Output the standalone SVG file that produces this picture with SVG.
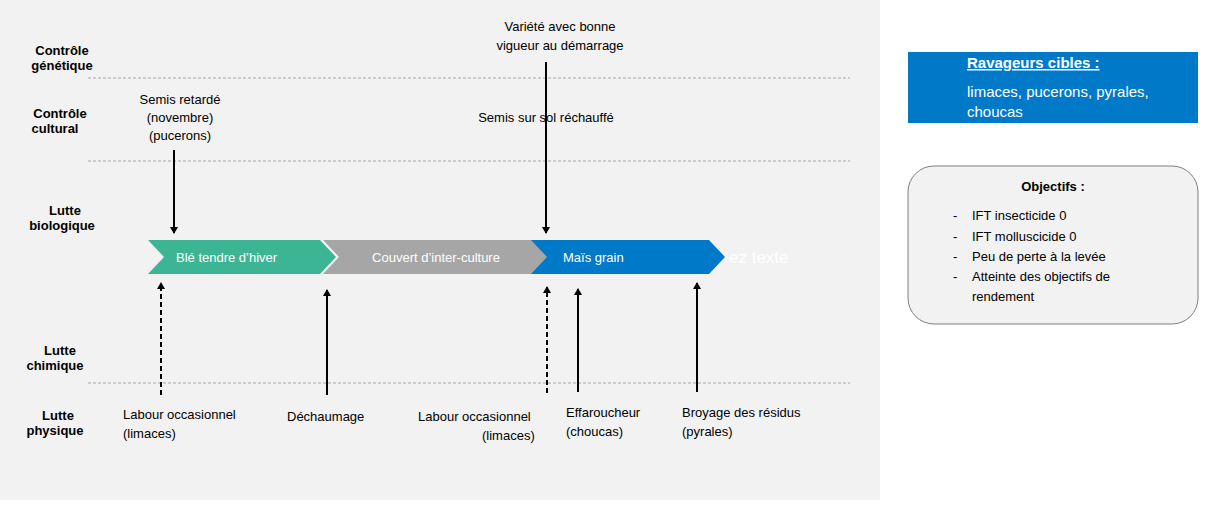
<svg xmlns="http://www.w3.org/2000/svg" width="1210" height="505" viewBox="0 0 1210 505">
<defs>
<marker id="ah" markerWidth="8" markerHeight="8" refX="6" refY="4" orient="auto" markerUnits="userSpaceOnUse"><path d="M0,0 L7,4 L0,8 z" fill="#000"/></marker>
<style>
text{font-family:"Liberation Sans",Arial,sans-serif;font-size:13px;fill:#000}
.lab{font-weight:bold;text-anchor:middle}
.c{text-anchor:middle}
.w{fill:#fff}
.sep{stroke:#a6a6a6;stroke-dasharray:3,2;stroke-width:1}
.ar{stroke:#000;stroke-width:2;marker-end:url(#ah)}
.da{stroke-dasharray:5,3}
</style>
</defs>
<rect width="1210" height="505" fill="#fff"/>
<rect x="0" y="0" width="880" height="500" fill="#f2f2f2"/>
<g id="rows">
<line class="sep" x1="88" y1="78" x2="850" y2="78"/>
<line class="sep" x1="88" y1="161" x2="850" y2="161"/>
<line class="sep" x1="88" y1="383" x2="850" y2="383"/>
<text class="lab" x="62" y="55">Contrôle</text><text class="lab" x="62" y="70">génétique</text>
<text class="lab" x="60" y="118">Contrôle</text><text class="lab" x="55" y="133">cultural</text>
<text class="lab" x="65" y="215">Lutte</text><text class="lab" x="62" y="230">biologique</text>
<text class="lab" x="60" y="355">Lutte</text><text class="lab" x="55" y="370">chimique</text>
<text class="lab" x="58" y="420">Lutte</text><text class="lab" x="55" y="435">physique</text>
</g>
<g id="n-ble"><path d="M148,240 L320,240 L336,257 L320,274 L148,274 L164,257 z" fill="#3cb594"/><text class="w" x="176" y="262">Blé tendre d’hiver</text></g>
<g id="n-couvert"><path d="M323,240 L533,240 L549,257 L533,274 L323,274 L339,257 z" fill="#a6a6a6"/><text class="w c" x="436" y="262">Couvert d’inter-culture</text></g>
<g id="n-mais"><path d="M531,240 L709,240 L725,257 L709,274 L531,274 L547,257 z" fill="#0079c8"/><text class="w" x="563" y="262">Maïs grain</text><text x="729" y="263" style="fill:#fff;font-size:17px">ez texte</text></g>
<g id="labels">
<text class="c" x="180" y="104">Semis retardé</text><text class="c" x="180" y="122">(novembre)</text><text class="c" x="180" y="140">(pucerons)</text>
<text class="c" x="560" y="31">Variété avec bonne</text><text class="c" x="560" y="50">vigueur au démarrage</text>
<text class="c" x="546" y="122">Semis sur sol réchauffé</text>
<text x="123" y="419">Labour occasionnel</text><text x="123" y="438">(limaces)</text>
<text x="287" y="421">Déchaumage</text>
<text x="418" y="421">Labour occasionnel</text><text x="482" y="440">(limaces)</text>
<text x="566" y="417">Effaroucheur</text><text x="566" y="436">(choucas)</text>
<text x="682" y="417">Broyage des résidus</text><text x="682" y="436">(pyrales)</text>
</g>
<g id="connectors">
<line class="ar" x1="174" y1="150" x2="174" y2="233"/>
<line class="ar" x1="546" y1="62" x2="546" y2="233"/>
<line class="ar da" x1="161" y1="395" x2="161" y2="283"/>
<line class="ar" x1="327" y1="395" x2="327" y2="290"/>
<line class="ar da" x1="547" y1="393" x2="547" y2="287"/>
<line class="ar" x1="578" y1="392" x2="578" y2="289"/>
<line class="ar" x1="697" y1="392" x2="697" y2="283"/>
</g>
<g id="n-ravageurs"><rect x="908" y="52" width="290" height="71" fill="#0079c8"/>
<text x="967" y="68" style="fill:#fff;font-weight:bold;font-size:15px;text-decoration:underline">Ravageurs cibles :</text>
<text x="967" y="97" style="fill:#fff;font-size:15px">limaces, pucerons, pyrales,</text>
<text x="967" y="117" style="fill:#fff;font-size:15px">choucas</text></g>
<g id="n-objectifs"><rect x="908" y="166" width="290" height="158" rx="26" fill="#f2f2f2" stroke="#7f7f7f"/>
<text class="lab" x="1053" y="191">Objectifs :</text>
<text x="953" y="220">-</text><text x="972" y="220">IFT insecticide 0</text>
<text x="953" y="241">-</text><text x="972" y="241">IFT molluscicide 0</text>
<text x="953" y="261">-</text><text x="972" y="261">Peu de perte à la levée</text>
<text x="953" y="281">-</text><text x="972" y="281">Atteinte des objectifs de</text>
<text x="972" y="301">rendement</text></g>
</svg>
